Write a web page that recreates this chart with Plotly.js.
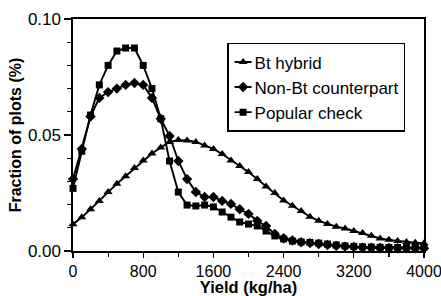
<!DOCTYPE html>
<html>
<head>
<meta charset="utf-8">
<script src="https://cdn.plot.ly/plotly-3.0.1.min.js"></script>
<style>html,body{margin:0;padding:0;background:#fff;}#chart{width:441px;height:296px;}</style>
</head>
<body>
<div id="chart"></div>
<script>
const yieldKgHa = [0,100,200,300,400,500,600,700,800,900,1000,1100,1200,1300,1400,1500,1600,1700,1800,1900,2000,2100,2200,2300,2400,2500,2600,2700,2800,2900,3000,3100,3200,3300,3400,3500,3600,3700,3800,3900,4000];
const btHybrid = [0.0115,0.0145,0.0180,0.0215,0.0254,0.0290,0.0322,0.0358,0.0390,0.0420,0.0446,0.0470,0.0478,0.0476,0.0470,0.0455,0.0440,0.0418,0.0390,0.0366,0.0340,0.0310,0.0278,0.0250,0.0218,0.0195,0.0172,0.0148,0.0130,0.0116,0.0105,0.0097,0.0086,0.0078,0.0066,0.0054,0.0048,0.0043,0.0039,0.0036,0.0033];
const nonBt = [0.031,0.044,0.058,0.066,0.0685,0.070,0.0716,0.0724,0.0716,0.066,0.057,0.0496,0.0388,0.031,0.0254,0.0233,0.0233,0.0216,0.0203,0.018,0.016,0.013,0.0108,0.0073,0.0055,0.0045,0.0038,0.0034,0.0030,0.0026,0.0022,0.0019,0.0017,0.0015,0.0014,0.0013,0.0013,0.0012,0.0012,0.0012,0.0012];
const popularCheck = [0.027,0.043,0.0586,0.0716,0.080,0.0862,0.0875,0.0875,0.080,0.070,0.057,0.0388,0.0254,0.0198,0.0194,0.0198,0.019,0.0168,0.0146,0.0125,0.0116,0.0108,0.0086,0.0065,0.0052,0.0043,0.0039,0.0037,0.0034,0.0030,0.0026,0.0022,0.0020,0.0018,0.0017,0.0016,0.0015,0.0015,0.0015,0.0015,0.0015];
const seriesNames = ["Bt hybrid","Non-Bt counterpart","Popular check"];
const xTickVals = [0,800,1600,2400,3200,4000];
const yTickVals = [0,0.05,0.10];

const FONT = "Liberation Sans, Arial, Helvetica, sans-serif";
function tr(y, name, sym, size){
  return {x: yieldKgHa, y: y, name: name, type: "scatter", mode: "lines+markers",
    line: {color: "#000", width: 1.9},
    marker: {symbol: sym, size: size, color: "#000"},
    cliponaxis: false};
}
const data = [
  tr(btHybrid, seriesNames[0], "triangle-up", 8),
  tr(nonBt, seriesNames[1], "diamond", 8),
  tr(popularCheck, seriesNames[2], "square", 7)
];
const layout = {
  width: 441, height: 296,
  margin: {l: 73, r: 17, t: 19, b: 45},
  paper_bgcolor: "#fff", plot_bgcolor: "#fff",
  font: {family: FONT, color: "#000", size: 16},
  showlegend: true,
  legend: {x: 0.439, y: 0.897, xanchor: "left", yanchor: "top",
    bordercolor: "#000", borderwidth: 1.5, bgcolor: "#fff",
    font: {family: FONT, size: 17, color: "#000"}, itemwidth: 30, tracegroupgap: 0},
  xaxis: {range: [0, 4000], tickvals: xTickVals, tickformat: "d",
    ticks: "outside", ticklen: 5, tickwidth: 1.2, tickcolor: "#000",
    minor: {dtick: 400, ticks: "outside", ticklen: 4, tickwidth: 1.2, tickcolor: "#000"},
    showline: true, linecolor: "#000", linewidth: 1.6, mirror: true,
    showgrid: false, zeroline: false, ticklabeloverflow: "allow",
    tickfont: {family: FONT, size: 16},
    title: {text: "<b>Yield (kg/ha)</b>", font: {family: FONT, size: 16.5}, standoff: 0}},
  yaxis: {range: [0, 0.10], tickvals: yTickVals, tickformat: ".2f",
    ticks: "outside", ticklen: 7, tickwidth: 1.2, tickcolor: "#000",
    minor: {dtick: 0.01, ticks: "outside", ticklen: 4, tickwidth: 1.2, tickcolor: "#000"},
    showline: true, linecolor: "#000", linewidth: 1.6, mirror: true,
    showgrid: false, zeroline: false,
    tickfont: {family: FONT, size: 17},
    title: {text: "<b>Fraction of plots (%)</b>", font: {family: FONT, size: 16}, standoff: 2}}
};
Plotly.newPlot("chart", data, layout, {displayModeBar: false, staticPlot: true}).then(function(gd){
  // tighten legend symbol area to match the compact reference legend
  const shift = 14;
  gd.querySelectorAll(".legend .traces").forEach(function(g){
    const t = g.querySelector("text.legendtext");
    if (t) t.setAttribute("x", String(parseFloat(t.getAttribute("x")) - shift));
    g.querySelectorAll(".legendlines path").forEach(function(p){ p.setAttribute("d", "M6,0h17"); });
    g.querySelectorAll(".legendpoints path").forEach(function(p){
      const tf = p.getAttribute("transform") || "";
      p.setAttribute("transform", tf.replace(/translate\(\s*20/, "translate(14.5"));
    });
  });
  const bg = gd.querySelector(".legend rect.bg");
  if (bg) bg.setAttribute("width", String(parseFloat(bg.getAttribute("width")) - shift));
});
</script>
</body>
</html>
